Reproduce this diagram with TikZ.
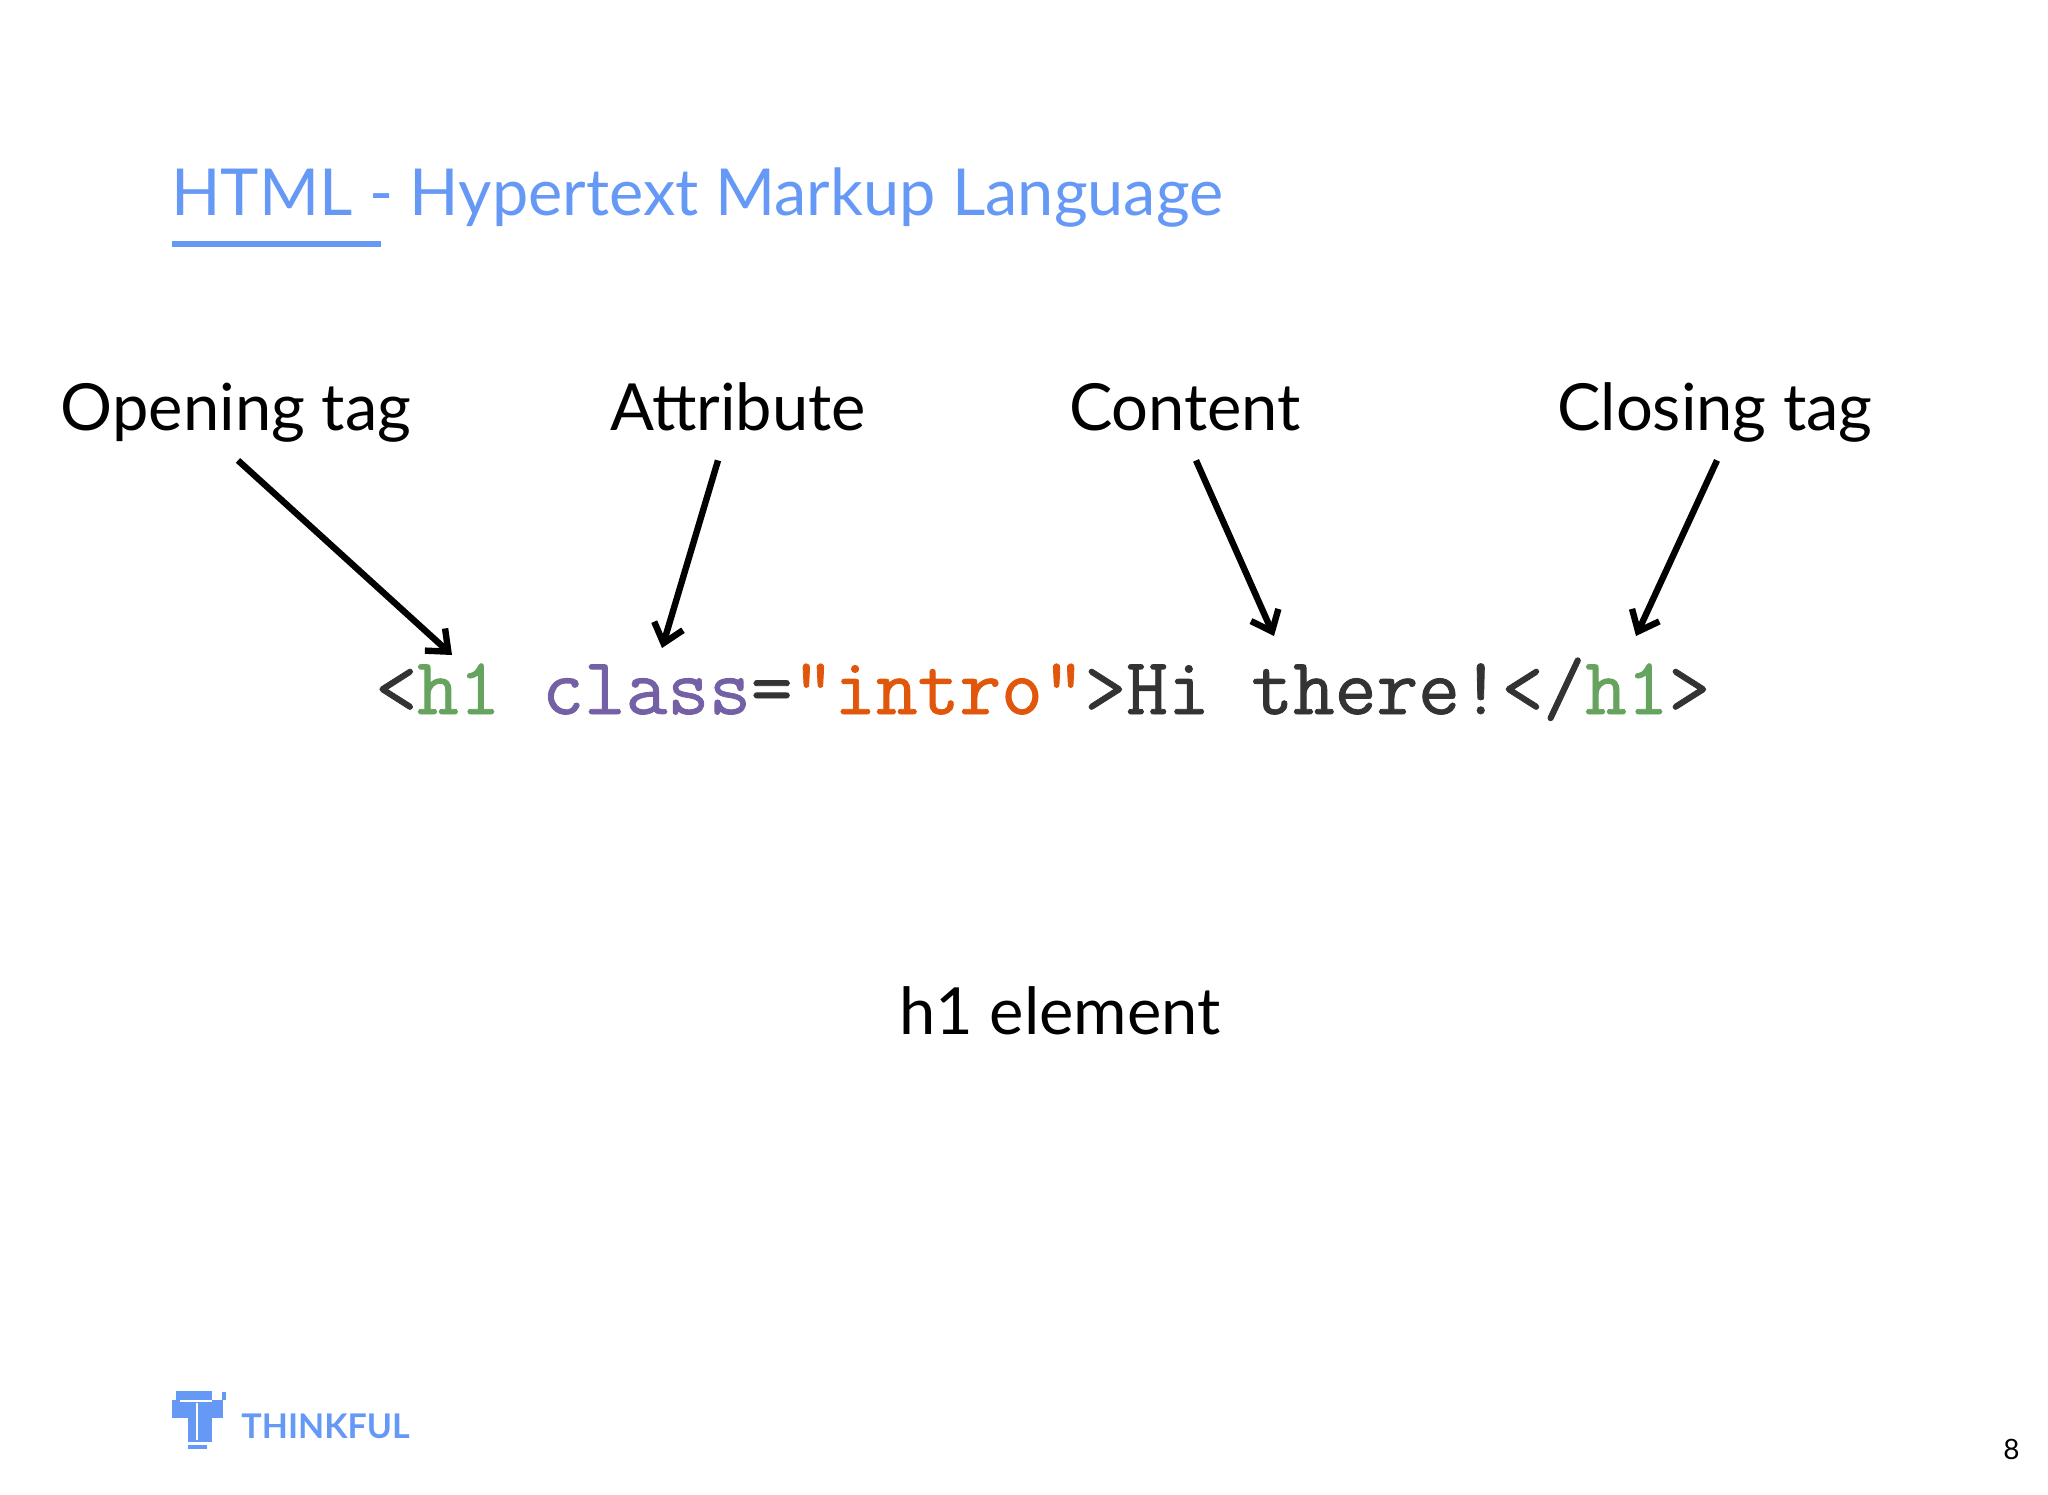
\documentclass[tikz,border=0pt]{standalone}
\usepackage{fontspec}
\usepackage{xcolor}
\setmainfont{Lato}
\newfontfamily\codefont[FakeBold=1]{Latin Modern Mono}
\usetikzlibrary{arrows.meta}
\definecolor{titleblue}{HTML}{6699F5}
\definecolor{tagcol}{HTML}{65A35F}
\definecolor{attrcol}{HTML}{7460A5}
\definecolor{strcol}{HTML}{E0570B}
\definecolor{codecol}{HTML}{333333}
\tikzset{
  labeltext/.style={font=\fontsize{32.5}{38}\selectfont,text=black,inner sep=0pt,anchor=base,text depth=8pt},
  pointer/.style={line width=3.2pt,-{Straight Barb[length=9pt,width=15pt,line width=3.2pt]}},
  logoblock/.style={fill=titleblue,draw=none},
}
\begin{document}
\begin{tikzpicture}[x=0.5pt,y=-0.5pt]
\useasboundingbox (0,0) rectangle (2048,1494);
\node[inner sep=0pt,anchor=base west,text=titleblue,font=\fontsize{32.4}{38}\selectfont] (title) at (171,215) {HTML - Hypertext Markup Language};
\draw[titleblue,line width=2.8pt] (172,244)--(381,244);
\node[labeltext] (opening) at (236,430) {Opening tag};
\node[labeltext] (attribute) at (738,430) {Attribute};
\node[labeltext] (content) at (1185,430) {Content};
\node[labeltext] (closing) at (1715,430) {Closing tag};
\node[inner sep=0pt,anchor=base west,text=codecol,font=\codefont\fontsize{40.5}{44}\selectfont] (code) at (375,714)
  {<\textcolor{tagcol}{h1} \textcolor{attrcol}{class}=\textcolor{strcol}{"intro"}>Hi there!</\textcolor{tagcol}{h1}>};
\node[labeltext] (element) at (1060,1034) {h1 element};
\coordinate (h1start) at (452,655);
\coordinate (classend) at (662,648);
\coordinate (thereend) at (1274,636);
\coordinate (closeend) at (1636,636);
\draw[pointer] ([xshift=1pt,yshift=-7pt]opening.south) -- (h1start);
\draw[pointer] ([xshift=-10pt,yshift=-7pt]attribute.south) -- (classend);
\draw[pointer] ([xshift=5.5pt,yshift=-7pt]content.south) -- (thereend);
\draw[pointer] ([xshift=1pt,yshift=-7pt]closing.south) -- (closeend);
% logo
\fill[logoblock] (176,1391) rectangle (212,1400);
\fill[logoblock] (172,1400) rectangle (223,1418);
\fill[logoblock] (222,1392) rectangle (226,1400);
\fill[logoblock] (188,1418) rectangle (212,1442);
\fill[logoblock] (188,1445) rectangle (207,1449);
\draw[white,line width=0.7pt] (180,1401)--(212,1401);
\draw[white,line width=0.7pt] (197,1403)--(197,1440);
\node[inner sep=0pt,anchor=base west,text=titleblue,font=\fontsize{17}{20}\selectfont\bfseries] (logo) at (241,1438) {THINKFUL};
\node[inner sep=0pt,anchor=base east,text=black,font=\fontsize{14}{16}\selectfont] (page) at (2020,1459) {8};
\end{tikzpicture}
\end{document}
